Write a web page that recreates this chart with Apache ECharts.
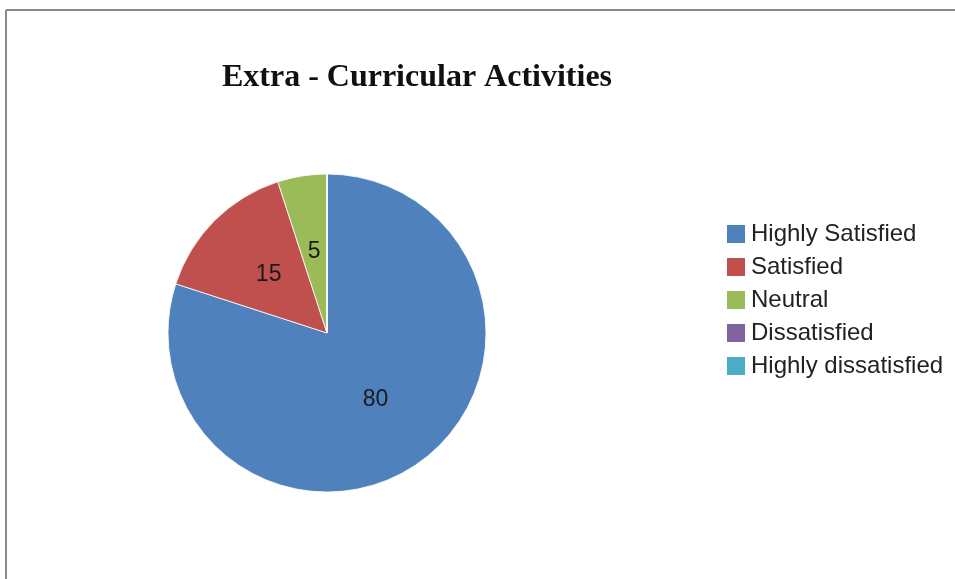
<!DOCTYPE html>
<html>
<head>
<meta charset="utf-8">
<script src="https://cdn.jsdelivr.net/npm/echarts@6/dist/echarts.min.js"></script>
<style>
html,body{margin:0;padding:0;background:#fff;}
#chart{width:955px;height:579px;}
</style>
</head>
<body>
<div id="chart"></div>
<script>
const titleText = 'Extra - Curricular Activities';
const categories = ['Highly Satisfied', 'Satisfied', 'Neutral', 'Dissatisfied', 'Highly dissatisfied'];
const values = [80, 15, 5, 0, 0];
const colors = ['#4F81BD', '#C0504D', '#9BBB59', '#8064A2', '#4BACC6'];

const chart = echarts.init(document.getElementById('chart'));
chart.setOption({
  backgroundColor: '#fff',
  animation: false,
  color: colors,
  title: {
    text: titleText,
    left: 412,
    top: 57,
    textAlign: 'center',
    textStyle: {
      fontFamily: 'Liberation Serif',
      fontWeight: 'bold',
      fontSize: 32,
      color: '#111'
    }
  },
  legend: {
    orient: 'vertical',
    left: 720,
    top: 217,
    itemWidth: 20,
    itemHeight: 20,
    itemGap: 9,
    itemTextGap: 3,
    icon: 'rect',
    data: categories,
    textStyle: {
      fontFamily: 'Liberation Sans',
      fontSize: 24,
      lineHeight: 22,
      color: '#222'
    }
  },
  graphic: [
    { type: 'line', shape: { x1: 6, y1: 10, x2: 955, y2: 10 }, style: { stroke: '#8a8a8a', lineWidth: 2 }, silent: true },
    { type: 'line', shape: { x1: 6, y1: 10, x2: 6, y2: 579 }, style: { stroke: '#8a8a8a', lineWidth: 2 }, silent: true }
  ],
  series: [{
    type: 'pie',
    center: [327, 333],
    radius: [0, 159],
    startAngle: 90,
    clockwise: true,
    avoidLabelOverlap: false,
    itemStyle: { borderColor: '#ffffff', borderWidth: 0.8 },
    label: {
      show: true,
      position: 'inside',
      formatter: p => p.value ? String(p.value) : '',
      fontFamily: 'Liberation Sans',
      fontSize: 23,
      color: '#1a1a1a'
    },
    labelLine: { show: false },
    emphasis: { disabled: true },
    data: categories.map((c, i) => ({ name: c, value: values[i] }))
  }]
});
</script>
</body>
</html>
